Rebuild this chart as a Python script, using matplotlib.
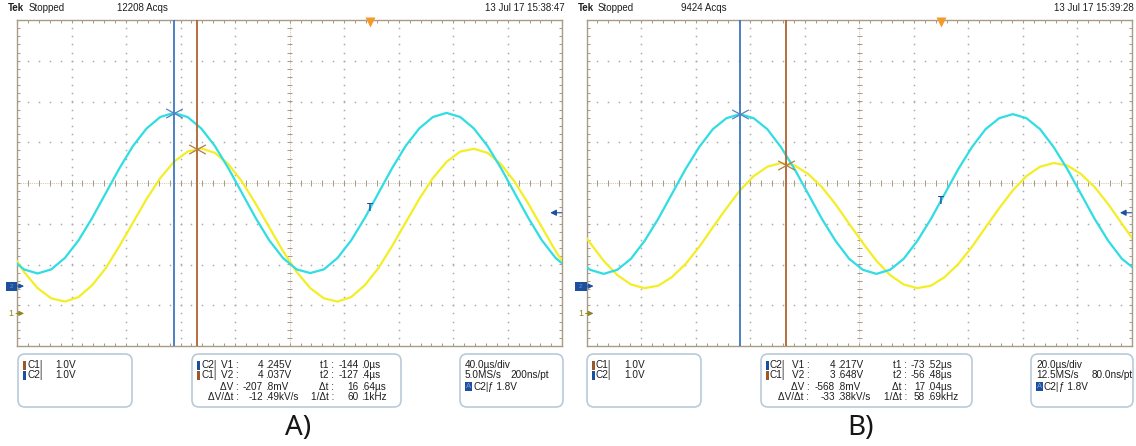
import numpy as np
import matplotlib
matplotlib.use("Agg")
import matplotlib.pyplot as plt
from matplotlib.patches import FancyBboxPatch, Rectangle
from matplotlib.path import Path

W, H = 1136, 446
plt.rcParams["font.family"] = ["Liberation Sans", "DejaVu Sans"]

# ---------------- acquisitions (volts); sample k is at t0 + k*dt (us) ----------------
a_t0, a_dt = -264.0, 10.0
a_ch1 = [1.53, 1.02, 0.62, 0.37, 0.29, 0.40, 0.69, 1.11, 1.65, 2.23,
         2.81, 3.32, 3.72, 3.97, 4.05, 3.94, 3.66, 3.23, 2.69, 2.11,
         1.53, 1.02, 0.62, 0.37, 0.29, 0.40, 0.69, 1.11, 1.65, 2.23,
         2.81, 3.32, 3.72, 3.97, 4.04, 3.94, 3.66, 3.23, 2.69, 2.11,
         1.53, 1.02]
a_ch2 = [0.69, 0.41, 0.31, 0.41, 0.69, 1.12, 1.67, 2.28, 2.89, 3.44,
         3.87, 4.15, 4.25, 4.15, 3.87, 3.44, 2.89, 2.28, 1.67, 1.12,
         0.69, 0.41, 0.32, 0.41, 0.69, 1.12, 1.67, 2.28, 2.89, 3.44,
         3.87, 4.15, 4.25, 4.15, 3.87, 3.44, 2.89, 2.28, 1.67, 1.12,
         0.69, 0.41]

b_t0, b_dt = -133.5, 5.0
b_ch1 = [2.20, 1.73, 1.29, 0.94, 0.71, 0.62, 0.68, 0.89, 1.21, 1.63,
         2.11, 2.58, 3.02, 3.37, 3.60, 3.69, 3.63, 3.42, 3.10, 2.68,
         2.20, 1.73, 1.29, 0.94, 0.71, 0.62, 0.68, 0.89, 1.21, 1.63,
         2.11, 2.58, 3.02, 3.37, 3.60, 3.69, 3.63, 3.42, 3.10, 2.68,
         2.20, 1.73]
b_ch2 = [0.67, 0.40, 0.30, 0.40, 0.67, 1.11, 1.65, 2.26, 2.87, 3.41,
         3.85, 4.12, 4.22, 4.12, 3.85, 3.41, 2.87, 2.26, 1.65, 1.11,
         0.67, 0.40, 0.30, 0.40, 0.67, 1.11, 1.65, 2.26, 2.87, 3.41,
         3.85, 4.12, 4.22, 4.12, 3.85, 3.41, 2.87, 2.26, 1.65, 1.11,
         0.67, 0.40]

# cursor readouts
a_t1, a_t2 = -144.0, -127.4
a_v1, a_v2 = 4.245, 4.037
b_t1, b_t2 = -73.52, -56.48
b_v1, b_v2 = 4.217, 3.648

a_dv, a_dvdt, a_dt_txt, a_inv = "-207 .8mV", "-12 .49kV/s", "16 .64µs", "60 .1kHz"
b_dv, b_dvdt, b_dt_txt, b_inv = "-568 .8mV", "-33 .38kV/s", "17 .04µs", "58 .69kHz"

# vertical setup (1 V/div for both channels) and trigger
VDIV = 1.0
CH1_POS, CH2_POS = -3.20, -2.53
TRIG_LEVEL = 1.8

CYAN, YEL = "#2fdde2", "#f3ee26"
CUR1, CUR2 = "#3d77c2", "#b0622e"
BLUE = "#1d4f9f"
BORDER = "#a89c86"
TEXT = "#1e1e1e"

panels = [
    dict(left=17.0, right=562.3, xlim=(-259.1, 140.9), tdiv=40.0,
         t0=a_t0, dt=a_dt, ch1=a_ch1, ch2=a_ch2,
         t1=a_t1, t2=a_t2, v1=a_v1, v2=a_v2, tfmt="{:.1f}",
         dv=a_dv, dvdt=a_dvdt, dtt=a_dt_txt, inv=a_inv,
         acqs="12208 Acqs", stamp="13 Jul 17 15:38:47",
         hdr=(8, 29, 117, 565),
         box1=18, box2=192, box2w=209, box3=460, box3w=103,
         vlab=47, vanc=73, tlab=142, tanc=169,
         tb=("40.0µs/div", "5.0MS/s", "200ns/pt"), tbx=50,
         label="A)", lx=298),
    dict(left=586.5, right=1132.0, xlim=(-129.8, 70.2), tdiv=20.0,
         t0=b_t0, dt=b_dt, ch1=b_ch1, ch2=b_ch2,
         t1=b_t1, t2=b_t2, v1=b_v1, v2=b_v2, tfmt="{:.2f}",
         dv=b_dv, dvdt=b_dvdt, dtt=b_dt_txt, inv=b_inv,
         acqs="9424 Acqs", stamp="13 Jul 17 15:39:28",
         hdr=(578, 598, 681, 1134),
         box1=587, box2=761, box2w=211, box3=1031, box3w=102,
         vlab=48.5, vanc=76, tlab=146, tanc=166,
         tb=("20.0µs/div", "12.5MS/s", "80.0ns/pt"), tbx=61,
         label="B)", lx=861),
]

TOP, BOT = 20.0, 346.0
PX_DIV_Y = (BOT - TOP) / 8.0

fig = plt.figure(figsize=(W / 100, H / 100), dpi=100)
fig.patch.set_facecolor("white")

# overlay in pixel coordinates for header, readout boxes and captions
ov = fig.add_axes([0, 0, 1, 1], zorder=0)
ov.set_xlim(0, W)
ov.set_ylim(H, 0)
ov.axis("off")

xmark = Path([(-1, -0.55), (1, 0.55), (-1, 0.55), (1, -0.55)],
             [Path.MOVETO, Path.LINETO, Path.MOVETO, Path.LINETO])


def graticule(ax, x0, tdiv, px_x):
    fine_x = x0 + tdiv * np.arange(0, 10.001, 0.2)
    fine_y = np.arange(-4, 4.001, 0.2)
    dot = dict(ls="none", marker="s", ms=1.1, mec="none", mfc="#ababab", zorder=1)
    for k in range(1, 10):
        if k == 5:
            continue
        ax.plot(np.full_like(fine_y, x0 + k * tdiv), fine_y, **dot)
    for j in range(-3, 4):
        if j == 0:
            continue
        ax.plot(fine_x, np.full_like(fine_x, float(j)), **dot)
    xc = x0 + 5 * tdiv
    ax.axhline(0, color="#c2b9a8", lw=0.6, ls=(0, (1, 1.2)), zorder=1)
    ax.axvline(xc, color="#c2b9a8", lw=0.6, ls=(0, (1, 1.2)), zorder=1)
    tick_y = 2.6 / PX_DIV_Y
    tick_x = 2.6 * px_x
    kw = dict(color=BORDER, lw=0.75, zorder=1)
    ax.vlines(fine_x, -tick_y, tick_y, **kw)
    ax.hlines(fine_y, xc - tick_x, xc + tick_x, **kw)
    ax.vlines(fine_x, 4 - 1.3 * tick_y, 4, **kw)
    ax.vlines(fine_x, -4, -4 + 1.3 * tick_y, **kw)
    ax.hlines(fine_y, x0, x0 + 1.3 * tick_x, **kw)
    ax.hlines(fine_y, x0 + 10 * tdiv - 1.3 * tick_x, x0 + 10 * tdiv, **kw)


def split_dec(s):
    i, f = s.split(" .")
    return i, "." + f


FS = 7.2

for P in panels:
    L, R = P["left"], P["right"]
    ax = fig.add_axes([L / W, 1 - BOT / H, (R - L) / W, (BOT - TOP) / H], zorder=2)
    ax.set_xlim(*P["xlim"])
    ax.set_ylim(-4, 4)
    ax.set_xticks([])
    ax.set_yticks([])
    ax.patch.set_alpha(0)
    for s in ax.spines.values():
        s.set_color(BORDER)
        s.set_linewidth(1.0)
    px_x = (P["xlim"][1] - P["xlim"][0]) / (R - L)   # data units per pixel
    graticule(ax, P["xlim"][0], P["tdiv"], px_x)

    t = P["t0"] + P["dt"] * np.arange(len(P["ch1"]))
    y1 = np.array(P["ch1"]) / VDIV + CH1_POS
    y2 = np.array(P["ch2"]) / VDIV + CH2_POS
    ax.plot(t, y1, color=YEL, lw=1.6, zorder=3, solid_joinstyle="round")
    ax.plot(t, y2, color=CYAN, lw=1.6, zorder=3, solid_joinstyle="round")

    # cursors
    ax.axvline(P["t1"], color=CUR1, lw=1.3, zorder=4)
    ax.axvline(P["t2"], color=CUR2, lw=1.3, zorder=4)
    ax.plot(P["t1"], P["v1"] / VDIV + CH2_POS, marker=xmark, ms=12, mec="#5a80c4",
            mfc="none", mew=0.9, zorder=5)
    ax.plot(P["t2"], P["v2"] / VDIV + CH1_POS, marker=xmark, ms=12, mec="#b3784c",
            mfc="none", mew=0.9, zorder=5)

    # trigger position, trigger point and level
    ax.plot(0, 4 - 1.5 / PX_DIV_Y, marker="v", ms=6.5, color="#f39a2a", mec="none",
            clip_on=False, zorder=6)
    ax.text(0, np.interp(0, t, y2), "T", color=BLUE, fontsize=7, fontweight="bold",
            ha="center", va="center", zorder=6)
    trans = ax.get_yaxis_transform()
    fx = 1.0 / (R - L)
    lvl = TRIG_LEVEL / VDIV + CH2_POS
    ax.annotate("", xy=(1 - 12 * fx, lvl), xytext=(1 - 0.5 * fx, lvl), xycoords=trans,
                textcoords=trans, annotation_clip=False,
                arrowprops=dict(arrowstyle="-|>,head_length=0.35,head_width=0.18",
                                color=BLUE, lw=0.8, shrinkA=0, shrinkB=0))

    # channel ground markers
    ax.add_patch(Rectangle((-11.5 * fx, CH2_POS - 4.5 / PX_DIV_Y), 11.5 * fx, 9 / PX_DIV_Y,
                           transform=trans, clip_on=False, fc=BLUE, ec="none", zorder=6))
    ax.text(-5.8 * fx, CH2_POS, "2", transform=trans, color="#6f93cf", fontsize=4.5,
            ha="center", va="center", zorder=7, clip_on=False)
    ax.annotate("", xy=(7 * fx, CH2_POS), xytext=(0, CH2_POS), xycoords=trans,
                textcoords=trans, annotation_clip=False,
                arrowprops=dict(arrowstyle="-|>,head_length=0.3,head_width=0.15",
                                color=BLUE, lw=0.7, shrinkA=0, shrinkB=0))
    ax.text(-6 * fx, CH1_POS, "1", transform=trans, color="#8f8420", fontsize=6.5,
            ha="center", va="center", clip_on=False, zorder=6)
    ax.annotate("", xy=(7 * fx, CH1_POS), xytext=(-1 * fx, CH1_POS), xycoords=trans,
                textcoords=trans, annotation_clip=False,
                arrowprops=dict(arrowstyle="-|>,head_length=0.3,head_width=0.15",
                                color="#8f8420", lw=0.7, shrinkA=0, shrinkB=0))

    # header line
    hx = P["hdr"]
    ov.text(hx[0], 8, "Tek", fontsize=7, fontweight="bold", color=TEXT, va="center")
    ov.text(hx[1], 8, "Stopped", fontsize=7, color=TEXT, va="center")
    ov.text(hx[2], 8, P["acqs"], fontsize=7, color=TEXT, va="center")
    ov.text(hx[3], 8, P["stamp"], fontsize=7, color=TEXT, va="center", ha="right")

    # readout boxes
    by, bh = 354, 53
    box_kw = dict(boxstyle="round,pad=0,rounding_size=7", ec="#b9cbd9", fc="white", lw=1.2)
    ov.add_patch(FancyBboxPatch((P["box1"], by), 114, bh, **box_kw))
    ov.add_patch(FancyBboxPatch((P["box2"], by), P["box2w"], bh, **box_kw))
    ov.add_patch(FancyBboxPatch((P["box3"], by), P["box3w"], bh, **box_kw))

    rows = [365, 375.5, 386.5, 397.5]
    b1 = P["box1"]
    for r, (name, col) in enumerate([("C1|", "#9a5a28"), ("C2|", BLUE)]):
        ov.add_patch(Rectangle((b1 + 4.5, rows[r] - 4.5), 3.5, 9, fc=col, ec="none"))
        ov.text(b1 + 9, rows[r], name, fontsize=FS, color=TEXT, va="center")
        ov.text(b1 + 37, rows[r], "1.0V", fontsize=FS, color=TEXT, va="center")

    b2 = P["box2"]
    for r, (name, col) in enumerate([("C2|", BLUE), ("C1|", "#9a5a28")]):
        ov.add_patch(Rectangle((b2 + 4.5, rows[r] - 4.5), 3.5, 9, fc=col, ec="none"))
        ov.text(b2 + 9, rows[r], name, fontsize=FS, color=TEXT, va="center")
    vvals = ["{:.3f}".format(P["v1"]).replace(".", " .") + "V",
             "{:.3f}".format(P["v2"]).replace(".", " .") + "V",
             P["dv"], P["dvdt"]]
    tvals = [P["tfmt"].format(P["t1"]).replace(".", " .") + "µs",
             P["tfmt"].format(P["t2"]).replace(".", " .") + "µs",
             P["dtt"], P["inv"]]
    vlabs = ["V1 :", "V2 :", "ΔV :", "ΔV/Δt :"]
    tlabs = ["t1 :", "t2 :", "Δt :", "1/Δt :"]
    for r in range(4):
        y = rows[r]
        ov.text(b2 + P["vlab"], y, vlabs[r], fontsize=FS, color=TEXT, va="center", ha="right")
        i, f = split_dec(vvals[r])
        ov.text(b2 + P["vanc"] - 2, y, i, fontsize=FS, color=TEXT, va="center", ha="right")
        ov.text(b2 + P["vanc"], y, f, fontsize=FS, color=TEXT, va="center", ha="left")
        ov.text(b2 + P["tlab"], y, tlabs[r], fontsize=FS, color=TEXT, va="center", ha="right")
        i, f = split_dec(tvals[r])
        ov.text(b2 + P["tanc"] - 2, y, i, fontsize=FS, color=TEXT, va="center", ha="right")
        ov.text(b2 + P["tanc"], y, f, fontsize=FS, color=TEXT, va="center", ha="left")

    b3 = P["box3"]
    ov.text(b3 + 5, rows[0], P["tb"][0], fontsize=FS, color=TEXT, va="center")
    ov.text(b3 + 5, rows[1], P["tb"][1], fontsize=FS, color=TEXT, va="center")
    ov.text(b3 + P["tbx"], rows[1], P["tb"][2], fontsize=FS, color=TEXT, va="center")
    ov.add_patch(Rectangle((b3 + 5, rows[2] - 4.5), 7, 9, fc=BLUE, ec="none"))
    ov.text(b3 + 8.5, rows[2], "A", fontsize=5.5, color="#7fa0d8", va="center", ha="center")
    ov.text(b3 + 13, rows[2], "C2|", fontsize=FS, color=TEXT, va="center")
    ov.text(b3 + 28, rows[2], "ƒ 1.8V", fontsize=FS, color=TEXT, va="center")

    ov.text(P["lx"], 428, P["label"], fontsize=20, color="#161616", ha="center",
            va="center", family=["Noto Sans", "DejaVu Sans"])

fig.savefig("out.png", dpi=100, facecolor="white")
